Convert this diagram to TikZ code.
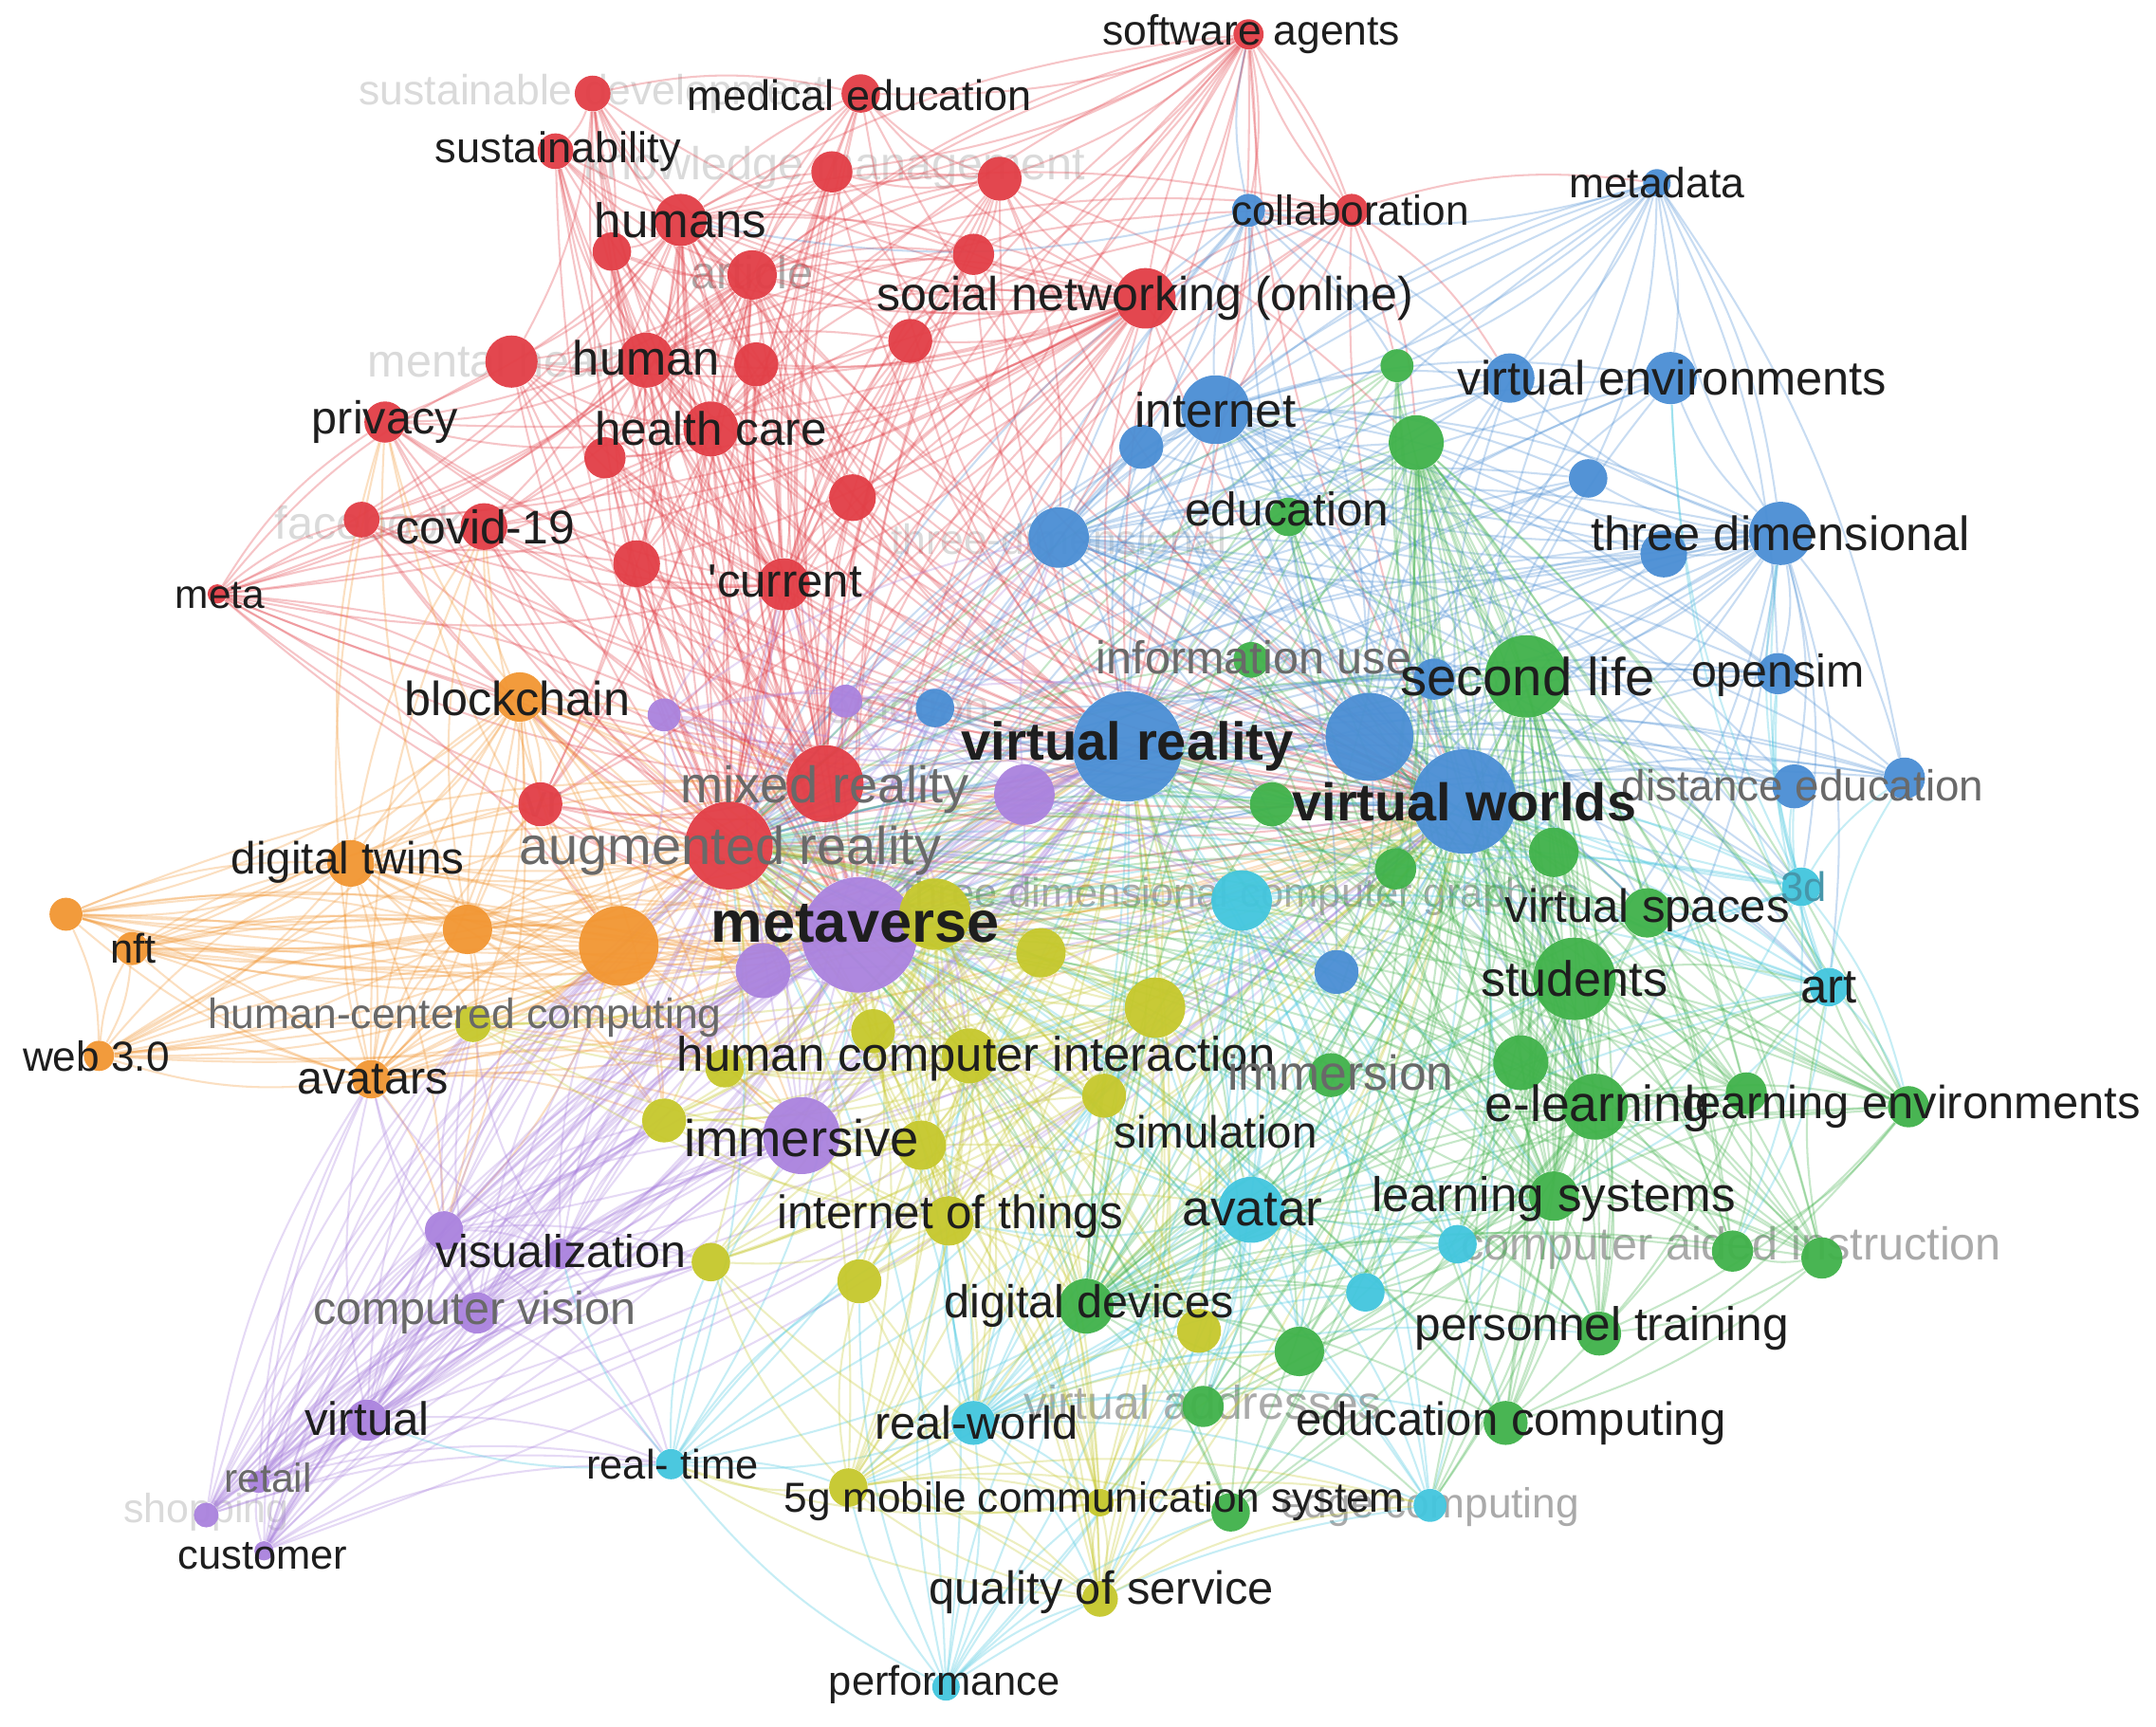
\documentclass[tikz,border=0pt]{standalone}
\usepackage{fontspec}
\setmainfont{Liberation Sans}
\pgfdeclarelayer{fl}
\pgfdeclarelayer{bg}
\pgfsetlayers{fl,bg,main}
\definecolor{cR}{RGB}{226,62,70}
\definecolor{cG}{RGB}{64,178,74}
\definecolor{cB}{RGB}{74,142,212}
\definecolor{cY}{RGB}{198,200,44}
\definecolor{cP}{RGB}{170,130,222}
\definecolor{cC}{RGB}{66,198,222}
\definecolor{cO}{RGB}{242,150,50}
\definecolor{tk}{RGB}{30,30,30}
\definecolor{tg}{RGB}{105,105,105}
\definecolor{tl}{RGB}{170,170,170}
\definecolor{tf}{RGB}{218,218,218}
\definecolor{tc}{RGB}{70,150,170}
\tikzset{
  nd/.style={circle, inner sep=0pt, draw=none, fill opacity=0.95},
  ed/.style={draw=#1, line width=0.8pt, draw opacity=0.3},
  lab/.style={inner sep=0pt, anchor=center}
}
\def\nodelist{rSA/908/25/11/cR, rME/626/68/14/cR, rSD/431/68/13/cR, rSU/404/110/13/cR,
rKM1/605/125/15/cR, rKM2/727/130/16/cR, rHS/495/160/19/cR, rA1/445/183/14/cR,
rAR/547/200/18/cR, rA2/708/185/15/cR, rCO/983/153/12/cR, rSN/833/217/22/cR,
rA3/662/248/16/cR, rMH/372/263/19/cR, rHU/470/262/20/cR, rA4/550/265/16/cR,
rPR/280/307/15/cR, rHC/517/312/20/cR, rA5/440/333/15/cR, rA6/620/362/17/cR,
rFB/263/378/13/cR, rCV/352/383/17/cR, rA7/463/410/17/cR, rCU/570/425/19/cR,
rMT/158/432/7/cR, rMR/600/570/28/cR, rAU/530/615/32/cR, rVR/393/585/16/cR,
oBC/378/507/18/cO, oDT/255/628/17/cO, oA1/48/665/12/cO, oNF/96/690/12/cO,
oA2/340/676/18/cO, oA3/450/688/29/cO, oW3/72/768/11/cO, oAV/270/785/14/cO,
pMV/625/680/42/cP, pA1/555/706/20/cP, pA2/745/578/22/cP, pA3/483/520/12/cP,
pEM/615/510/12/cP, pIM/583/826/28/cP, pVI/323/895/14/cP, pVZ/408/912/11/cP,
pCV/347/955/15/cP, pVT/267/1033/15/cP, pRE/188/1078/8/cP, pSH/150/1102/9/cP,
pCU/192/1128/7/cP,
bVR/820/543/40/cB, bA1/996/536/32/cB, bVW/1065/583/38/cB, bA2/770/391/22/cB,
bA3/680/515/14/cB, bIN/884/298/25/cB, bA4/830/325/16/cB, bCO/908/153/12/cB,
bMD/1205/133/10/cB, bVE1/1098/275/18/cB, bVE2/1215/275/19/cB, bA5/1155/348/14/cB,
bTD/1295/388/23/cB, bA6/1210/403/17/cB, bOS/1293/490/15/cB, bSL/1043/494/15/cB,
bDE1/1305/572/16/cB, bDE2/1385/566/15/cB, bA7/972/707/16/cB,
gSL/1110/492/30/cG, gED/937/376/14/cG, gA1/1016/266/12/cG, gA2/1030/322/20/cG,
gIU/910/480/13/cG, gA3/925/585/16/cG, gA4/1015/632/15/cG, gA5/1130/620/18/cG,
gVS/1198/664/18/cG, gST/1145/712/30/cG, gA6/1106/773/20/cG, gIM/968/782/16/cG,
gEL/1160/805/24/cG, gLE1/1270/795/15/cG, gLE2/1388/805/15/cG, gLS/1130/870/18/cG,
gCA1/1260/910/15/cG, gCA2/1325/915/15/cG, gPT/1163/970/16/cG, gDD/790/950/20/cG,
gA7/945/983/18/cG, gVA/875/1023/15/cG, gEC/1095/1035/16/cG, gA8/895/1100/14/cG,
cTD/903/655/22/cC, c3D/1310/645/14/cC, cAR/1330/718/14/cC, cAV/910/880/24/cC,
cA1/1060/905/14/cC, cA2/993/940/14/cC, cRW/708/1035/16/cC, cRT/488/1065/11/cC,
cEC/1040/1095/12/cC, cPF/688/1227/10/cC,
yA1/680/665/26/cY, yA2/757/693/18/cY, yA3/840/733/22/cY, yHC/705/768/20/cY,
yA4/635/750/16/cY, yA5/527/777/14/cY, yHCC/344/745/13/cY, yA6/483/815/16/cY,
yA7/670/833/18/cY, ySI/803/797/16/cY, yIT/690/888/18/cY, yA8/517/918/14/cY,
yA9/625/932/16/cY, yA10/872/968/16/cY, y5G/617/1082/14/cY, yQS/800/1163/13/cY,
yA11/800/1093/10/cY}
\def\Rlist{rSA,rME,rSD,rSU,rKM1,rKM2,rHS,rA1,rAR,rA2,rCO,rSN,rA3,rMH,rHU,rA4,rPR,rHC,rA5,rA6,rFB,rCV,rA7,rCU,rMT,rMR,rAU,rVR}
\def\Oplus{oBC,oDT,oA1,oNF,oA2,oA3,oW3,oAV,pMV,rAU,rMR,pA1,yHCC,pIM,rVR,yA5,rCV,rPR,yA6,pVI}
\def\Pplus{pMV,pIM,pA1,oA3,yA6,rAU,pVI,pVZ,pCV,pVT,oAV,yA8,bVR,pRE,yHCC,cRT}
\def\BGlist{bVR,bA1,bVW,bA2,bA3,bIN,bA4,bCO,bMD,bVE1,bVE2,bA5,bTD,bA6,bOS,bSL,bDE1,bDE2,bA7,gSL,gED,gA2,gST,gEL,gVS,cAR,c3D}
\def\GClist{gSL,gED,gA1,gA2,gIU,gA3,gA4,gA5,gVS,gST,gA6,gIM,gEL,gLE1,gLE2,gLS,gCA1,gCA2,gPT,gDD,gA7,gVA,gEC,gA8,cAV,cA1,cA2,cEC,cAR}
\def\CYlist{cTD,c3D,cAR,cAV,cA1,cA2,cRW,cRT,cEC,cPF,yIT,yA3,yHC,gDD,gA7,gEC,gPT,gLS,y5G,yQS,yA11,gVA,bA7}
\def\Ylist{yA1,yA2,yA3,yHC,yA4,yA5,yHCC,yA6,yA7,ySI,yIT,yA8,yA9,yA10,y5G,yQS,yA11,pMV,pIM,cAV,cRW,gDD}
\begin{document}
\begin{tikzpicture}[x=0.5669pt,y=-0.5669pt]
\useasboundingbox (0,0) rectangle (1568,1256);
% nodes
\foreach \nn/\x/\y/\rr/\cl in \nodelist {
  \node[nd, fill=\cl, minimum size={2*\rr*0.5669pt}] (\nn) at (\x,\y) {};
}
% background and faint labels
\begin{pgfonlayer}{fl}
\fill[white] (0,0) rectangle (1568,1256);
\foreach \nn/\x/\y/\sz/\cl/\txt in {F1/431/68/17.4/tf/sustainable development,
  F2/607/122/19/tf/knowledge management, F3/547/198/19/tl/article,
  F4/368/262/19/tf/mental health, F5/268/380/19/tf/facebook,
  F6/770/392/17.4/tf/three-dimensional, F7/660/514/19/tf/emotion,
  F8/395/585/19/tl/vr, F9/903/652/17/tl/three dimensional computer graphics,
  F10/875/1020/19.5/tl/virtual addresses, F11/1259/908/19/tl/computer aided instruction,
  F12/150/1100/16.8/tf/shopping, F13/1040/1096/17.3/tl/edge computing}{
  \node[lab, text=\cl, font=\fontsize{\sz pt}{\sz pt}\selectfont] (\nn) at (\x,\y) {\txt};
}
\end{pgfonlayer}
% edges
\begin{pgfonlayer}{bg}
\foreach \hh in {pMV,bVR,bVW,rAU}{
  \foreach \nn/\x/\y/\rr/\cl in \nodelist {
    \ifx\hh\nn\else \draw[ed=\cl] (\hh) to[bend left=12] (\nn);\fi
  }
}
\foreach \hh in {rMR,rHU,rHC,rHS,rSN,rCU,rAR}{
  \foreach \nn in \Rlist {\ifx\hh\nn\else \draw[ed=cR] (\hh) to[bend left=12] (\nn);\fi}
}
\foreach \nn in {rME,rKM2,rSN,rCO,rHS,rA2,bCO,bIN,bVR,gA1,rA3,rKM1,bA2,rA6}{\draw[ed=cR] (rSA) to[bend left=10] (\nn);}
\foreach \nn in {rFB,rCV,rPR,rMR,pMV,oBC,rMH,rA7,oA3}{\draw[ed=cR] (rMT) to[bend left=12] (\nn);}
\foreach \nn in {rSU,rME,rA1,rMH}{\draw[ed=cR] (rSD) to[bend left=12] (\nn);}
\foreach \nn in {bCO,bIN,bMD,gA2,bVE1,rSA}{\draw[ed=cR] (rCO) to[bend left=12] (\nn);}
\foreach \nn in {rA3,rKM1,rME,rA2,bA2,bIN,gA2}{\draw[ed=cR] (rKM2) to[bend left=12] (\nn);}
\foreach \hh in {oA3,oA2,oBC,oDT,oAV}{
  \foreach \nn in \Oplus {\ifx\hh\nn\else \draw[ed=cO] (\hh) to[bend left=12] (\nn);\fi}
}
\foreach \hh in {oA1,oNF,oW3}{
  \foreach \nn in {oA3,oA2,oDT,oAV,pA1,rMR,oNF,oW3,yA5}{\ifx\hh\nn\else \draw[ed=cO] (\hh) to[bend left=12] (\nn);\fi}
}
\foreach \hh in {pVI,pVZ,pCV,pVT,pRE,pSH,pCU}{
  \foreach \nn in \Pplus {\ifx\hh\nn\else \draw[ed=cP] (\hh) to[bend left=12] (\nn);\fi}
}
\foreach \hh in {pA2,pA3,pEM,pA1,pIM}{
  \foreach \nn in {rMR,bA2,rCU,oA3,bA3,yA1,yHC,cTD,bA1}{\ifx\hh\nn\else \draw[ed=cP] (\hh) to[bend left=12] (\nn);\fi}
}
\foreach \hh in {bA1,bTD,bIN,bA2}{
  \foreach \nn in \BGlist {\ifx\hh\nn\else \draw[ed=cB] (\hh) to[bend left=12] (\nn);\fi}
}
\foreach \nn in {bVE1,bVE2,bTD,bA1,bCO,bIN,bOS,bDE2,bA5,gA1}{\draw[ed=cB] (bMD) to[bend left=12] (\nn);}
\foreach \nn in {rSA,bIN,bVE1,bA1,gA1,rSN,bA2,rHS}{\draw[ed=cB] (bCO) to[bend left=12] (\nn);}
\foreach \hh in {gSL,gST,gEL,gLS,gDD,gA2}{
  \foreach \nn in \GClist {\ifx\hh\nn\else \draw[ed=cG] (\hh) to[bend left=12] (\nn);\fi}
}
\foreach \hh in {gLE2,gCA2,gLE1}{
  \foreach \nn in {gA6,gPT,gCA1,gVS,gEC,cAR,bA1,gA5}{\ifx\hh\nn\else \draw[ed=cG] (\hh) to[bend left=12] (\nn);\fi}
}
\foreach \hh in {cAV,cTD,cRW}{
  \foreach \nn in \CYlist {\ifx\hh\nn\else \draw[ed=cC] (\hh) to[bend left=12] (\nn);\fi}
}
\foreach \nn in {cRT,y5G,yQS,yIT,cEC,yA11,gA8,gDD,yA9}{\draw[ed=cC] (cPF) to[bend left=12] (\nn);}
\foreach \hh in {c3D,cAR}{
  \foreach \nn in {bTD,bDE1,bDE2,bOS,gVS,gLE2,bA1,gLS,gCA1,bVE2}{\draw[ed=cC] (\hh) to[bend left=12] (\nn);}
}
\foreach \nn in {pIM,pVT,yA9,y5G,yIT,pVZ,yA8}{\draw[ed=cC] (cRT) to[bend left=12] (\nn);}
\foreach \hh in {yA1,yHC,yA3,yIT,yA7}{
  \foreach \nn in \Ylist {\ifx\hh\nn\else \draw[ed=cY] (\hh) to[bend left=12] (\nn);\fi}
}
\foreach \hh in {yQS,y5G,yA11}{
  \foreach \nn in {yA9,yA10,gA8,gA7,cEC,yA8,cRT,y5G,yA11,yQS}{\ifx\hh\nn\else \draw[ed=cY] (\hh) to[bend left=12] (\nn);\fi}
}
\end{pgfonlayer}
% labels
\foreach \nn/\x/\y/\sz/\cl/\txt in {
  L1/910/25/17.4/tk/software agents, L2/625/69/17.6/tk/medical education,
  L3/406/110/17.7/tk/sustainability, L4/495/160/20/tk/humans,
  L5/833/217/19.6/tk/social networking (online), L6/470/260/19.8/tk/human,
  L7/280/307/19/tk/privacy, L8/517/312/19.3/tk/health care,
  L9/353/383/19.5/tk/covid-19, L10/160/433/16.6/tk/meta,
  L11/571/423/19.2/tk/\textquotesingle current, L12/376/508/19.7/tk/blockchain,
  L13/600/574/21.2/tg/mixed reality, L14/531/619/21.9/tg/augmented reality,
  L15/253/627/18.6/tk/digital twins, L16/97/690/17/tk/nft,
  L17/338/740/17.4/tg/human-centered computing, L18/70/768/17.3/tk/web 3.0,
  L19/271/785/19/tk/avatars, L20/710/770/19.9/tk/human computer interaction,
  L21/975/780/20.2/tg/immersion, L22/583/828/21.3/tk/immersive,
  L23/884/823/18.6/tk/simulation, L24/691/885/19.3/tk/internet of things,
  L25/408/910/18.9/tk/visualization, L26/345/955/19/tg/computer vision,
  L27/792/950/19/tk/digital devices, L28/267/1032/19.3/tk/virtual,
  L29/710/1035/19.1/tk/real-world, L30/489/1065/17/tk/real- time,
  L31/195/1075/16.7/tg/retail, L32/191/1132/17/tk/customer,
  L33/796/1092/17.3/tk/5g mobile communication system, L34/801/1158/19.1/tk/quality of service,
  L35/687/1225/17/tk/performance, L36/982/153/17.3/tk/collaboration,
  L37/1205/133/17.4/tk/metadata, L38/884/298/19.9/tk/internet,
  L39/1216/275/19.8/tk/virtual environments, L40/936/370/19.4/tk/education,
  L41/1295/388/19.8/tk/three dimensional, L42/912/478/19/tg/information use,
  L43/1111/492/22/tk/second life, L44/1293/491/18.9/tk/opensim,
  L45/1311/571/17.9/tg/distance education, L46/1198/662/19.2/tk/virtual spaces,
  L47/1312/645/17/tc/3d, L48/1145/712/20.4/tk/students,
  L49/1330/718/19.9/tk/art, L50/1162/806/20.9/tk/e-learning,
  L51/1391/805/19.1/tk/learning environments, L52/1130/872/20/tk/learning systems,
  L53/911/880/20.8/tk/avatar, L54/1165/966/19.4/tk/personnel training,
  L55/1099/1035/19.2/tk/education computing}{
  \node[lab, text=\cl, font=\fontsize{\sz pt}{\sz pt}\selectfont] (\nn) at (\x,\y) {\txt};
}
\node[lab, text=tk, font=\fontsize{22pt}{22pt}\selectfont\bfseries] (LB1) at (820,543) {virtual reality};
\node[lab, text=tk, font=\fontsize{21.8pt}{21.8pt}\selectfont\bfseries] (LB2) at (1065,583) {virtual worlds};
\node[lab, text=tk, font=\fontsize{24pt}{24pt}\selectfont\bfseries] (LB3) at (622,672) {metaverse};
\end{tikzpicture}
\end{document}
